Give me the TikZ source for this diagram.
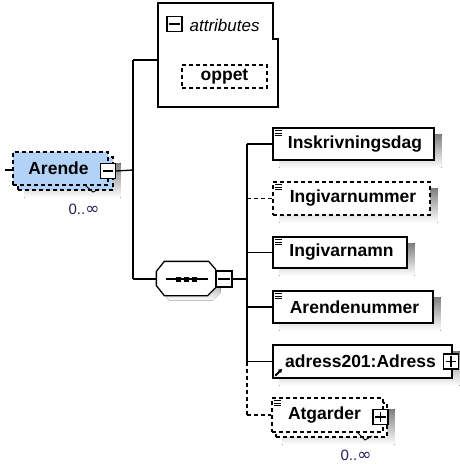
\documentclass[tikz,border=0pt]{standalone}
\usepackage{fontspec}
\setmainfont{Liberation Sans}
\newfontfamily\djv{DejaVu Sans}
\usetikzlibrary{backgrounds,calc,arrows.meta}
\definecolor{shade}{RGB}{200,200,200}
\definecolor{arfill}{RGB}{178,210,248}
\definecolor{multc}{RGB}{40,30,90}
\begin{document}
\begin{tikzpicture}[x=1pt,y=-1pt,line width=1.3pt,
  lbl/.style={font=\fontsize{17.5}{20}\selectfont\bfseries},
  box/.style={draw, fill=white, rectangle, inner sep=0pt, lbl},
  dsh/.style={dash pattern=on 4pt off 3pt},
  pm/.style={draw, fill=white, rectangle, minimum size=15pt, inner sep=0pt, line width=1.2pt},
  icon/.style={line width=0.9pt},
  mult/.style={font=\fontsize{15}{17}\selectfont, text=multc},
  conn/.style={line width=1.3pt}]
\useasboundingbox (0,0) rectangle (460,464);

% ---------- attributes ----------
\node[minimum width=120pt, minimum height=104pt, inner sep=0pt] (attr) at (218,55) {};
\draw[fill=white] (158,3) -- (273,3) -- (273,39) -- (278,39) -- (278,107) -- (158,107) -- cycle;
\node[pm] (attrmin) at (174.5,24) {};
\draw ([xshift=3pt]attrmin.west) -- ([xshift=-3pt]attrmin.east);
\node[anchor=west, font=\fontsize{17}{20}\selectfont\itshape, inner sep=0pt] (attrtxt) at (189,25) {attributes};
\node[box, dsh, minimum width=85pt, minimum height=23pt] (oppet) at (224.5,76.5) {oppet};

% ---------- Arende ----------
\node[draw, dsh, fill=arfill, minimum width=95pt, minimum height=33pt, inner sep=0pt] (arback) at (65.5,173.5) {};
\node[box, dsh, fill=arfill, minimum width=95pt, minimum height=33pt] (arende) at (60.5,168.5) {\hspace*{-4pt}Arende};
\node[pm] (armin) at (108,171) {};
\draw ([xshift=3pt]armin.west) -- ([xshift=-3pt]armin.east);
\coordinate (arstub) at (5,170);
\draw[line width=0.9pt] (86,186) -- (93,192) -- (99,189);
\node[mult] (armult) at (84,209) {0..{\djv\fontsize{17}{17}\selectfont ∞}};

% ---------- sequence ----------
\node[minimum width=58pt, minimum height=33pt, inner sep=0pt] (seq) at (186,278.5) {};
\draw[fill=white] ($(seq.north west)+(0,10)$) -- ($(seq.north west)+(8,0)$) -- ($(seq.north east)+(-7,0)$) -- ($(seq.north east)+(0,8)$) -- ($(seq.south east)+(0,-8)$) -- ($(seq.south east)+(-8,0)$) -- ($(seq.south west)+(8,0)$) -- ($(seq.south west)+(0,-10)$) -- cycle;
\draw ($(seq.west)+(10,0.5)$) -- ($(seq.east)+(-8,0.5)$);
\foreach \dx in {-8,0,8}{\fill ($(seq.center)+(\dx-2.5,-2)$) rectangle +(5,5);}
\node[pm, minimum size=16pt] (seqmin) at (224,279) {};
\draw ([xshift=3pt]seqmin.west) -- ([xshift=-3pt]seqmin.east);

% ---------- children ----------
\node[box, minimum width=161pt, minimum height=32pt] (ins) at (353.5,144) {\hspace*{3pt}Inskrivningsdag};
\node[box, dsh, minimum width=157pt, minimum height=33pt] (ingnr) at (351.5,198.5) {\hspace*{3pt}Ingivarnummer};
\node[box, minimum width=134pt, minimum height=31pt] (ingnamn) at (340,252.5) {\hspace*{3pt}Ingivarnamn};
\node[box, minimum width=160pt, minimum height=32pt] (arnr) at (353,307) {\hspace*{3pt}Arendenummer};
\node[box, minimum width=179pt, minimum height=33pt] (adr) at (362.5,361.5) {\hspace*{-4pt}adress201:Adress};
\node[pm] (adrplus) at (451,361.5) {};
\draw ([xshift=3pt]adrplus.west) -- ([xshift=-3pt]adrplus.east);
\draw ([yshift=-3pt]adrplus.north) -- ([yshift=3pt]adrplus.south);
\draw[line width=1.8pt, -{Latex[length=4pt,width=5pt]}] ($(adr.south west)+(3,-3)$) -- +(7,-7);

\node[draw, dsh, fill=white, minimum width=111pt, minimum height=34pt, inner sep=0pt] (atgback) at (331.5,420) {};
\node[box, dsh, minimum width=111pt, minimum height=34pt] (atg) at (327.5,415) {Atgarder\hspace*{6pt}};
\node[pm] (atgplus) at (380.5,417) {};
\draw ([xshift=3pt]atgplus.west) -- ([xshift=-3pt]atgplus.east);
\draw ([yshift=-3pt]atgplus.north) -- ([yshift=3pt]atgplus.south);
\draw[line width=0.9pt] (358,433) -- (365,440) -- (372,436);
\node[mult] (atgmult) at (356,455) {0..{\djv\fontsize{17}{17}\selectfont ∞}};

% element icons
\foreach \n in {ins,ingnr,ingnamn,arnr,atg}{
  \foreach \d in {3,5.7,8.4}{\draw[icon] ($(\n.north west)+(2.5,\d)$) -- +(7,0);}
}

% ---------- connectors ----------
\coordinate (j1) at (133,170);
\coordinate (j1t) at (133,60);
\coordinate (j1b) at (133,279);
\coordinate (sp) at (247,279);
\draw[conn] (arstub) -- (arstub -| arende.west);
\draw[conn] (armin.east) -- (j1);
\draw[conn] (j1t) -- (j1b);
\draw[conn] (j1t) -- (j1t -| attr.west);
\draw[conn] (j1b) -- (j1b -| seq.west);
\draw[conn] (seqmin.east) -- (sp);
\draw[conn] (sp |- ins.west) -- (sp |- adr.west);
\draw[conn, dsh] (sp |- adr.west) -- (sp |- atg.west);
\draw[conn] (sp |- ins.west) -- (ins.west);
\draw[conn, dsh] (sp |- ingnr.west) -- (ingnr.west);
\draw[conn] (sp |- ingnamn.west) -- (ingnamn.west);
\draw[conn] (sp |- arnr.west) -- (arnr.west);
\draw[conn] (sp |- adr.west) -- (adr.west);
\draw[conn, dsh] (sp |- atg.west) -- (atg.west);

% ---------- shadows ----------
\begin{scope}[on background layer]
  \foreach \n in {ins,ingnr,ingnamn,arnr,adr,atgback,arback}{
    \fill[shade] ([shift={(7,7)}]\n.north west) rectangle ([shift={(7,7)}]\n.south east);
  }
  \fill[shade] ([shift={(5,7)}]oppet.north west) rectangle ([shift={(5,7)}]oppet.south east);
  \fill[shade] ($(seq.north west)+(5,15)$) -- ($(seq.north east)+(5,13)$) -- ($(seq.south east)+(5,-3)$) -- ($(seq.south east)+(-3,5)$) -- ($(seq.south west)+(13,5)$) -- ($(seq.south west)+(5,-5)$) -- cycle;
\end{scope}
\end{tikzpicture}
\end{document}
